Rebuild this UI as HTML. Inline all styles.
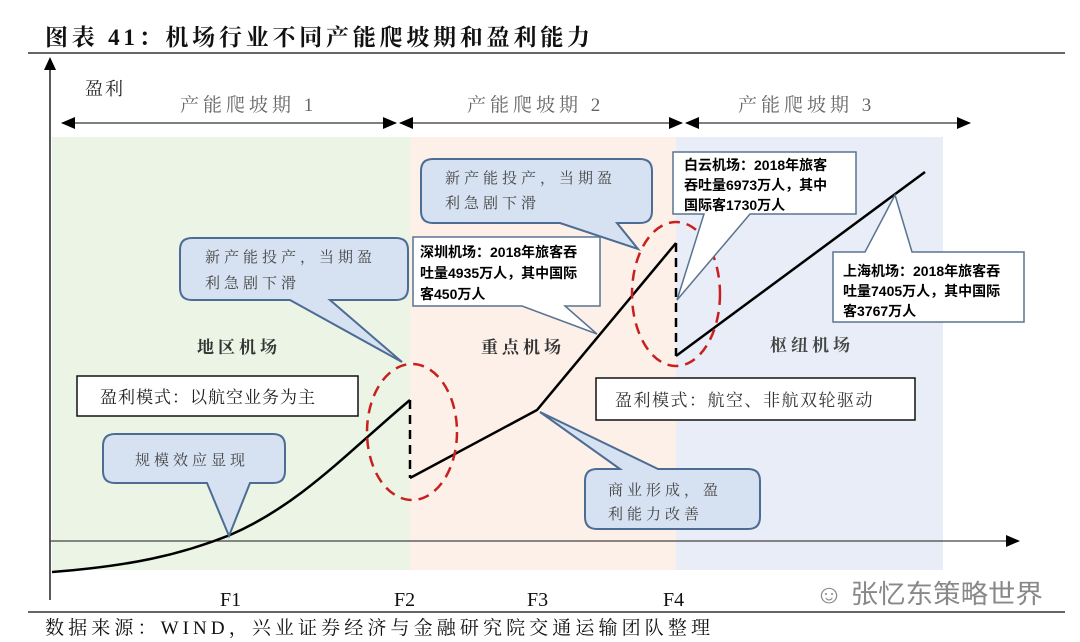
<!DOCTYPE html>
<html><head><meta charset="utf-8"><style>
html,body{margin:0;padding:0;background:#fff;}
svg{display:block;}
.t{font-family:"Liberation Serif","Noto Serif CJK SC",serif;}
.s{font-family:"Liberation Sans","Noto Sans CJK SC",sans-serif;}
</style></head><body>
<svg width="1080" height="642" viewBox="0 0 1080 642" xmlns="http://www.w3.org/2000/svg">
<defs>
<marker id="ahs" markerWidth="14" markerHeight="12" refX="13" refY="6" orient="auto-start-reverse" markerUnits="userSpaceOnUse"><path d="M0,0 L14,6 L0,12 z" fill="#000"/></marker>
</defs>
<text x="45" y="45" class="t" font-size="23" font-weight="bold" fill="#111" textLength="545" lengthAdjust="spacing">图表 41：机场行业不同产能爬坡期和盈利能力</text>
<line x1="28" y1="53" x2="1065" y2="53" stroke="#333" stroke-width="1.5"/>
<rect x="52" y="137" width="358" height="433" fill="#ebf4e5"/>
<rect x="410" y="137" width="266" height="433" fill="#fcf0e9"/>
<rect x="676" y="137" width="267" height="433" fill="#e8edf7"/>
<line x1="50" y1="600" x2="50" y2="68" stroke="#222" stroke-width="1.5"/>
<path d="M44,70 L50,57 L56,70 z" fill="#000"/>
<line x1="50" y1="541" x2="1008" y2="541" stroke="#444" stroke-width="1.2"/>
<path d="M1006,535 L1020,541 L1006,547 z" fill="#000"/>
<text x="85" y="95" class="t" font-size="18" fill="#222" letter-spacing="2">盈利</text>
<line x1="62" y1="123" x2="396" y2="123" stroke="#333" stroke-width="1.2" marker-start="url(#ahs)" marker-end="url(#ahs)"/>
<line x1="400" y1="123" x2="682" y2="123" stroke="#333" stroke-width="1.2" marker-start="url(#ahs)" marker-end="url(#ahs)"/>
<line x1="686" y1="123" x2="970" y2="123" stroke="#333" stroke-width="1.2" marker-start="url(#ahs)" marker-end="url(#ahs)"/>
<text x="180" y="111" class="t" font-size="19" fill="#666" letter-spacing="4">产能爬坡期 1</text>
<text x="467" y="111" class="t" font-size="19" fill="#666" letter-spacing="4">产能爬坡期 2</text>
<text x="738" y="111" class="t" font-size="19" fill="#666" letter-spacing="4">产能爬坡期 3</text>
<text x="197" y="353" class="t" font-size="17" font-weight="bold" fill="#333" letter-spacing="4">地区机场</text>
<text x="481" y="353" class="t" font-size="17" font-weight="bold" fill="#333" letter-spacing="4">重点机场</text>
<text x="770" y="351" class="t" font-size="17" font-weight="bold" fill="#444" letter-spacing="4">枢纽机场</text>
<rect x="77" y="376" width="281" height="40" fill="#fff" stroke="#111" stroke-width="1.5"/>
<text x="100" y="403" class="t" font-size="17" fill="#222" letter-spacing="1">盈利模式：以航空业务为主</text>
<rect x="596" y="378" width="319" height="42" fill="#fff" stroke="#111" stroke-width="1.5"/>
<text x="615" y="406" class="t" font-size="17" fill="#333" letter-spacing="1.5">盈利模式：航空、非航双轮驱动</text>
<path d="M52,572 C130,566 180,555 230,535 C300,505 350,450 410,400" fill="none" stroke="#000" stroke-width="2.5"/>
<line x1="410" y1="400" x2="410" y2="478" stroke="#000" stroke-width="2.5" stroke-dasharray="9,6"/>
<polyline points="410,478 537,410 676,243" fill="none" stroke="#000" stroke-width="2.5"/>
<line x1="676" y1="243" x2="676" y2="356" stroke="#000" stroke-width="2.5" stroke-dasharray="9,6"/>
<line x1="676" y1="356" x2="925" y2="172" stroke="#000" stroke-width="2.5"/>
<ellipse cx="412" cy="432" rx="45" ry="68" fill="none" stroke="#c8201e" stroke-width="2.5" stroke-dasharray="11,7"/>
<ellipse cx="676" cy="294" rx="44" ry="72" fill="none" stroke="#c8201e" stroke-width="2.5" stroke-dasharray="11,7"/>
<g fill="#d6e1f1" stroke="#4d6c94" stroke-width="2">
<path d="M192,238 H396 Q408,238 408,250 V288 Q408,300 396,300 H330 L402,362 L290,300 H192 Q180,300 180,288 V250 Q180,238 192,238 Z"/>
<path d="M433,159 H640 Q652,159 652,171 V211 Q652,223 640,223 H617 L638,249 L560,223 H433 Q421,223 421,211 V171 Q421,159 433,159 Z"/>
<path d="M115,434 H273 Q285,434 285,446 V471 Q285,483 273,483 H250 L229,536 L207,483 H115 Q103,483 103,471 V446 Q103,434 115,434 Z"/>
<path d="M597,469 H620 L540,412 L658,469 H748 Q760,469 760,481 V517 Q760,529 748,529 H597 Q585,529 585,517 V481 Q585,469 597,469 Z"/>
</g>
<text x="205" y="262" class="t" font-size="15" fill="#444" letter-spacing="4">新产能投产，当期盈</text>
<text x="205" y="288" class="t" font-size="15" fill="#444" letter-spacing="4">利急剧下滑</text>
<text x="445" y="183" class="t" font-size="15" fill="#444" letter-spacing="4">新产能投产，当期盈</text>
<text x="445" y="208" class="t" font-size="15" fill="#444" letter-spacing="4">利急剧下滑</text>
<text x="135" y="465" class="t" font-size="15" fill="#444" letter-spacing="4">规模效应显现</text>
<text x="608" y="495" class="t" font-size="15" fill="#444" letter-spacing="4">商业形成，盈</text>
<text x="608" y="519" class="t" font-size="15" fill="#444" letter-spacing="4">利能力改善</text>
<g fill="#fff" stroke="#5a7390" stroke-width="1.5">
<path d="M413,237 H600 V306 H565 L597,334 L522,306 H413 Z"/>
<path d="M673,152 H856 V214 H750 L677,300 L704,214 H673 Z"/>
<path d="M833,252 H865 L895,195 L912,252 H1024 V322 H833 Z"/>
</g>
<g class="s" font-size="14" font-weight="bold" fill="#000">
<text x="420" y="257">深圳机场：2018年旅客吞</text>
<text x="420" y="278">吐量4935万人，其中国际</text>
<text x="420" y="299">客450万人</text>
<text x="684" y="170">白云机场：2018年旅客</text>
<text x="684" y="190">吞吐量6973万人，其中</text>
<text x="684" y="210">国际客1730万人</text>
<text x="843" y="276">上海机场：2018年旅客吞</text>
<text x="843" y="296">吐量7405万人，其中国际</text>
<text x="843" y="316">客3767万人</text>
</g>
<g class="t" font-size="20" fill="#111">
<text x="220" y="606">F1</text>
<text x="394" y="606">F2</text>
<text x="527" y="606">F3</text>
<text x="663" y="606">F4</text>
</g>
<text x="815" y="603" class="s" font-size="26" fill="#888" textLength="228" lengthAdjust="spacingAndGlyphs">☺ 张忆东策略世界</text>
<line x1="28" y1="612" x2="1065" y2="612" stroke="#333" stroke-width="1.5"/>
<text x="45" y="634" class="t" font-size="19" fill="#111" textLength="665" lengthAdjust="spacing">数据来源：WIND，兴业证券经济与金融研究院交通运输团队整理</text>
</svg>
</body></html>
